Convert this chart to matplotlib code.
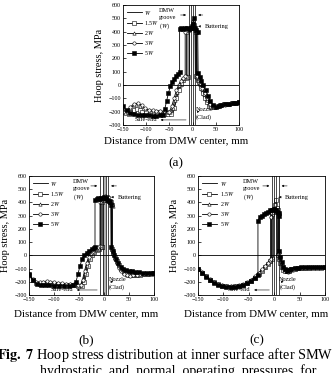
import matplotlib
matplotlib.use("Agg")
import matplotlib.pyplot as plt

plt.rcParams['font.family'] = ['Liberation Serif', 'DejaVu Serif']
plt.rcParams['mathtext.fontset'] = 'stix'

LABELS = [r"$W$", r"1.5$W$", r"2$W$", r"3$W$", r"5$W$"]
XTICKS = [-150, -100, -50, 0, 50, 100]
YTICKS = [-300, -200, -100, 0, 100, 200, 300, 400, 500, 600]

# ---------------- panel (a) ----------------
A_W_X = [-150,-140,-130,-120,-110,-100,-90,-80,-70,-60,-50,-42,-36,-30,-24,-18,-12,-7,-7,-4,-1,2,5,6,8,12,18,24,30,36,42,50,60,70,80,90,100]
A_W_Y = [-205,-212,-200,-190,-198,-205,-208,-210,-212,-215,-218,-210,-130,-60,0,30,50,60,400,415,430,440,420,60,40,10,-40,-90,-130,-160,-165,-158,-150,-145,-140,-135,-130]
A_15_X = [-150,-144,-138,-132,-126,-120,-114,-108,-100,-92,-84,-76,-68,-60,-52,-46,-40,-35,-30,-25,-20,-15,-10,-10,-7,-4,-1,2,4,7,8,11,14,18,22,26,30,35,40,46,52,60,68,76,84,92,100]
A_15_Y = [-195,-210,-215,-200,-185,-180,-190,-200,-205,-208,-210,-212,-215,-218,-220,-215,-170,-100,-40,10,40,55,60,410,420,430,445,450,430,400,70,40,20,-20,-60,-100,-130,-155,-165,-165,-158,-150,-145,-140,-137,-133,-130]
A_2_X = [-150,-142,-134,-126,-118,-110,-102,-94,-86,-78,-70,-62,-54,-48,-43,-38,-33,-28,-23,-18,-13,-13,-10,-7,-4,-1,2,5,8,9,12,16,20,25,30,36,42,48,55,62,70,78,86,94,100]
A_2_Y = [-190,-200,-175,-150,-140,-155,-180,-190,-195,-195,-198,-200,-205,-205,-170,-110,-50,0,35,55,65,400,420,430,440,460,440,410,400,60,35,5,-30,-70,-110,-145,-160,-162,-155,-150,-145,-140,-137,-133,-130]
A_3_X = [-150,-142,-134,-126,-118,-110,-102,-94,-86,-78,-70,-62,-54,-50,-45,-40,-35,-30,-25,-20,-16,-16,-12,-8,-4,0,3,6,9,10,13,17,21,26,31,37,43,49,56,63,70,78,86,94,100]
A_3_Y = [-200,-195,-165,-140,-138,-150,-175,-185,-190,-192,-195,-198,-200,-200,-160,-100,-40,0,30,55,70,400,415,425,430,480,450,420,400,70,45,15,-20,-60,-100,-140,-158,-165,-160,-152,-147,-142,-138,-134,-130]
A_5_X = [-150,-142,-134,-126,-118,-110,-102,-94,-86,-78,-70,-64,-60,-56,-52,-48,-44,-40,-36,-32,-28,-28,-24,-20,-16,-12,-8,-4,0,2,5,8,11,12,15,19,23,28,33,38,44,50,56,62,70,78,86,94,100]
A_5_Y = [-160,-190,-210,-220,-225,-225,-228,-228,-230,-230,-228,-225,-180,-120,-60,-10,20,45,65,80,95,420,425,420,425,430,420,430,460,500,430,410,400,90,60,30,0,-40,-80,-120,-150,-162,-160,-152,-146,-142,-138,-134,-130]

# ---------------- panel (b) ----------------
B_W_X = [-150,-142,-134,-126,-118,-110,-100,-90,-80,-70,-60,-50,-42,-38,-34,-30,-26,-20,-14,-8,-2,-2,0,3,6,9,12,14,15,17,20,24,28,33,38,44,50,56,62,70,78,86,94,100]
B_W_Y = [-140,-185,-210,-220,-222,-225,-225,-226,-227,-228,-228,-230,-230,-190,-120,-60,-10,20,40,55,65,410,430,440,435,420,400,380,40,20,0,-30,-60,-90,-115,-130,-140,-145,-145,-143,-140,-138,-136,-135]
B_15_X = [-150,-143,-136,-129,-122,-115,-108,-100,-92,-84,-76,-68,-60,-52,-45,-41,-37,-33,-29,-25,-20,-15,-10,-5,-4,-4,-1,2,5,8,11,14,16,16,18,21,25,29,34,39,45,51,58,65,72,80,88,94,100]
B_15_Y = [-145,-190,-210,-215,-220,-220,-215,-218,-222,-225,-225,-228,-228,-230,-230,-200,-140,-80,-30,5,25,40,50,60,62,400,420,430,440,430,410,400,380,50,20,-10,-40,-70,-100,-125,-140,-150,-152,-150,-146,-142,-140,-138,-137]
B_2_X = [-150,-143,-136,-129,-122,-115,-108,-100,-92,-84,-76,-68,-60,-52,-46,-42,-38,-34,-30,-26,-21,-16,-11,-6,-6,-3,0,3,6,9,12,15,17,17,19,22,26,30,35,40,46,52,58,65,72,80,88,94,100]
B_2_Y = [-145,-185,-205,-210,-205,-200,-205,-210,-212,-215,-218,-220,-222,-225,-225,-190,-130,-70,-20,10,30,45,55,65,400,425,440,445,430,410,400,390,370,40,10,-20,-50,-80,-110,-130,-145,-150,-150,-147,-143,-140,-138,-137,-136]
B_3_X = [-150,-143,-136,-129,-122,-115,-108,-100,-92,-84,-76,-68,-60,-52,-47,-43,-39,-35,-31,-27,-22,-17,-12,-8,-8,-5,-2,1,4,7,10,13,15,15,18,21,25,29,34,39,45,51,58,65,72,80,88,94,100]
B_3_Y = [-140,-180,-200,-205,-200,-195,-198,-205,-208,-210,-215,-218,-220,-222,-225,-185,-120,-60,-15,15,35,50,60,70,400,420,435,445,440,420,405,395,380,40,10,-25,-60,-95,-120,-140,-152,-155,-150,-146,-142,-140,-138,-137,-136]
B_5_X = [-150,-142,-134,-126,-118,-110,-100,-90,-80,-70,-62,-56,-52,-48,-44,-40,-35,-30,-25,-20,-18,-18,-15,-12,-9,-6,-3,0,3,6,9,12,14,14,17,20,24,28,33,38,44,50,56,62,70,78,86,94,100]
B_5_Y = [-140,-190,-215,-222,-225,-228,-230,-230,-230,-230,-225,-200,-140,-80,-30,0,20,35,45,55,60,420,425,430,428,432,435,440,430,420,410,400,380,60,30,0,-30,-60,-85,-100,-110,-115,-120,-125,-128,-130,-132,-134,-135]

# ---------------- panel (c) ----------------
C_W_X = [-150,-140,-130,-120,-110,-100,-90,-80,-70,-60,-50,-40,-30,-22,-16,-10,-6,-3,-1,-1,1,3,5,6,8,10,13,16,20,25,30,35,40,46,52,60,70,80,90,100]
C_W_Y = [-100,-135,-170,-200,-218,-230,-235,-235,-232,-222,-205,-180,-145,-115,-85,-55,-30,-15,-5,300,320,330,340,0,-20,-50,-80,-100,-110,-105,-95,-92,-90,-90,-90,-90,-90,-90,-90,-90]
C_15_X = [-150,-142,-134,-126,-118,-110,-102,-94,-86,-78,-70,-62,-54,-46,-38,-30,-24,-18,-13,-9,-5,-5,-2,1,3,5,7,7,9,12,15,18,22,26,30,35,40,46,52,60,68,76,84,92,100]
C_15_Y = [-100,-130,-160,-185,-205,-220,-230,-235,-236,-235,-233,-225,-212,-195,-170,-140,-115,-90,-65,-45,-25,310,340,380,420,360,340,0,-30,-60,-90,-110,-120,-122,-115,-105,-100,-98,-97,-96,-95,-95,-94,-93,-92]
C_2_X = [-150,-142,-134,-126,-118,-110,-102,-94,-86,-78,-70,-62,-54,-46,-38,-30,-24,-18,-13,-9,-6,-6,-3,0,3,6,8,8,10,13,16,19,23,27,31,36,41,47,53,60,68,76,84,92,100]
C_2_Y = [-100,-128,-158,-183,-203,-218,-228,-233,-235,-234,-230,-222,-208,-190,-165,-135,-110,-85,-60,-40,-20,300,330,360,350,340,330,10,-20,-55,-85,-105,-118,-120,-112,-103,-98,-96,-95,-94,-93,-92,-92,-91,-90]
C_3_X = [-150,-142,-134,-126,-118,-110,-102,-94,-86,-78,-70,-62,-54,-46,-38,-30,-24,-18,-13,-9,-7,-7,-4,-1,2,5,8,9,9,11,14,17,20,24,28,32,37,42,48,54,60,68,76,84,92,100]
C_3_Y = [-100,-126,-155,-180,-200,-215,-225,-230,-232,-232,-228,-220,-205,-185,-160,-130,-105,-80,-58,-38,-25,290,320,340,350,345,330,320,20,-15,-50,-80,-105,-120,-125,-118,-108,-100,-96,-94,-93,-92,-91,-90,-90,-90]
C_5_X = [-150,-142,-134,-126,-118,-110,-102,-94,-86,-78,-70,-62,-54,-46,-38,-32,-32,-28,-24,-20,-16,-12,-8,-4,0,3,6,9,10,10,12,15,18,21,25,29,34,40,46,52,60,68,76,84,92,100]
C_5_Y = [-100,-132,-163,-190,-210,-225,-233,-237,-238,-236,-232,-225,-212,-195,-170,-150,260,290,300,310,320,330,340,345,350,340,330,320,300,30,-10,-50,-85,-105,-115,-110,-100,-95,-93,-92,-91,-90,-90,-90,-90,-90]

STYLES = [
    dict(marker=None),
    dict(marker='s', mfc='white'),
    dict(marker='^', mfc='white'),
    dict(marker='o', mfc='white'),
    dict(marker='s', mfc='black'),
]

W, H = 333, 373
fig = plt.figure(figsize=(W/100, H/100), dpi=100)

def px_axes(l, t, r, b):
    return fig.add_axes([l/W, 1-b/H, (r-l)/W, (b-t)/H])

def panel(ax, series, vlines, band, dmw_x, butt_x, safe_txt_x, safe_arrow, nozzle_x):
    for (xs, ys), lab, st in zip(series, LABELS, STYLES):
        ax.plot(xs, ys, color='black', lw=0.6, marker=st['marker'],
                mfc=st.get('mfc', 'white'), mec='black', mew=0.4,
                markersize=2.4, label=lab)
    ax.axhline(0, color='black', lw=0.6)
    if band is not None:
        ax.axvspan(band[0], band[1], color='0.7', lw=0)
    for v in vlines:
        ax.axvline(v, color='black', lw=0.5)
    ax.set_xlim(-150, 100)
    ax.set_ylim(-300, 600)
    ax.set_xticks(XTICKS)
    ax.set_yticks(YTICKS)
    ax.tick_params(labelsize=4.3, direction='in', length=2, width=0.5, pad=1.5)
    for s in ax.spines.values():
        s.set_linewidth(0.6)
    ax.legend(loc='upper left', fontsize=4.3, frameon=False, handlelength=2.6,
              labelspacing=0.35, borderaxespad=0.2, handletextpad=0.4)
    ax.text(dmw_x, 575, "DMW\ngroove\n($W$)", fontsize=4.5, va='top', ha='left', linespacing=1.3)
    ap = dict(arrowstyle='-|>', lw=0.4, color='black', mutation_scale=3)
    ax.annotate("", xy=(vlines[0], 525), xytext=(vlines[0]-24, 525), arrowprops=ap)
    ax.annotate("", xy=(vlines[-1], 525), xytext=(vlines[-1]+22, 525), arrowprops=ap)
    ax.annotate("Buttering", xy=(vlines[-1], 440), xytext=(butt_x, 440), fontsize=4.5,
                va='center', ha='left', arrowprops=ap)
    ax.text(safe_txt_x, -262, "Safe-end", fontsize=4.5, va='center', ha='right')
    ax.annotate("", xy=(safe_arrow, -262), xytext=(vlines[0], -262), arrowprops=ap)
    ax.text(nozzle_x, -215, "Nozzle\n(Clad)", fontsize=4.5, va='center', ha='left', linespacing=1.4)
    ax.annotate("", xy=(nozzle_x+14, -200), xytext=(vlines[-1], -200), arrowprops=ap)

axA = px_axes(123, 5, 239, 125)
panel(axA, [(A_W_X, A_W_Y), (A_15_X, A_15_Y), (A_2_X, A_2_Y), (A_3_X, A_3_Y), (A_5_X, A_5_Y)],
      [-8, -4.5, 1.5, 6], None, -72, 27, -77, -75, 7)
axB = px_axes(29, 176, 154, 295)
panel(axB, [(B_W_X, B_W_Y), (B_15_X, B_15_Y), (B_2_X, B_2_Y), (B_3_X, B_3_Y), (B_5_X, B_5_Y)],
      [-8, -3, 4, 8.5], (-3, 4), -62, 28, -62, -60, 10)
axC = px_axes(198, 176, 325, 295)
panel(axC, [(C_W_X, C_W_Y), (C_15_X, C_15_Y), (C_2_X, C_2_Y), (C_3_X, C_3_Y), (C_5_X, C_5_Y)],
      [-4, 0, 4.5, 9], None, -62, 20, -47, -45, 10)

for ax, xlab_y, lab_y, lab in [(axA, 142, 163, "(a)"), (axB, 315, 340, "(b)"), (axC, 315, 340, "(c)")]:
    pos = ax.get_position()
    ax.set_ylabel("Hoop stress, MPa", fontsize=7.5, labelpad=3)
    cx = (pos.x0 + pos.x1) / 2 - 0.015
    fig.text(cx, 1 - xlab_y/H, "Distance from DMW center, mm", fontsize=7.8, ha='center', va='center')
    fig.text(cx, 1 - lab_y/H, lab, fontsize=9.5, ha='center', va='center')

fig.text(-0.01, 1 - 355/H, r"$\mathbf{Fig.\ 7}$ Hoop stress distribution at inner surface after SMW",
         fontsize=10.3, ha='left', va='center')
fig.text(0.12, 1 - 371/H, "hydrostatic  and  normal  operating  pressures  for",
         fontsize=10.0, ha='left', va='center')

fig.savefig("out.png", dpi=100)
